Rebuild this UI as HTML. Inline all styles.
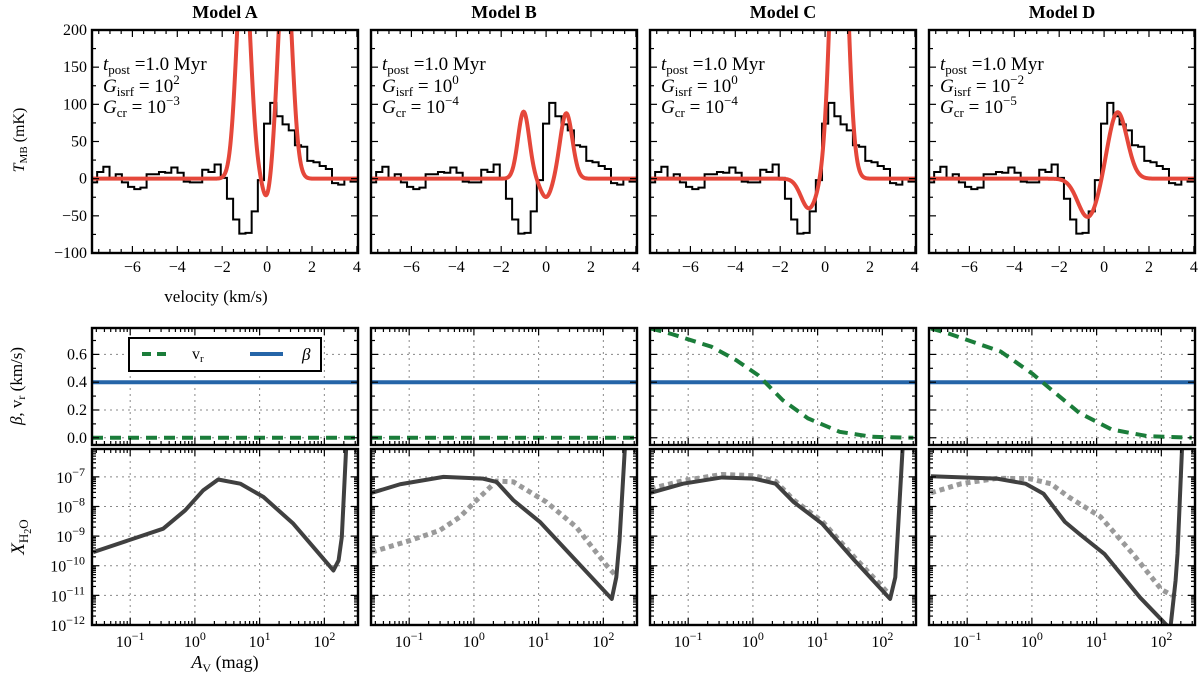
<!DOCTYPE html>
<html><head><meta charset="utf-8"><style>
body{margin:0;background:#fff;}
svg{display:block;font-family:"Liberation Serif",serif;}
</style></head><body>
<svg id="fig" width="1200" height="679" viewBox="0 0 1200 679" xmlns="http://www.w3.org/2000/svg"></svg>
<script>
// ---- data ----
const models = ["Model A","Model B","Model C","Model D"];
const gIsrfExp = ["2","0","0","−2"];
const gCrExp = ["−3","−4","−4","−5"];
// observed spectrum (step histogram)
const histStart = -7.57;
const histWidth = 0.2753;
const histValues = [-5,9,16,1,6,-5,-11,-14,-12,6,6,9,8,15,8,-4,-5,-5,12,9,19,1,-27,-55,-74,-73,-44,-2,74,102,84,73,65,45,43,24,22,17,13,-6,-8,0,-4];
// model spectra: gaussian components [amplitude mK, centre km/s, width km/s]
const modelA = [[310,-1.05,0.3],[310,0.8,0.3],[-30,0,0.2]];
const modelB = [[90,-1.0,0.25],[88,0.9,0.27],[-25,0,0.25]];
const modelC = [[-40,-0.72,0.35],[506,0.62,0.33]];
const modelD = [[-52,-0.72,0.45],[90,0.6,0.42]];
const modelSpectra = [modelA,modelB,modelC,modelD];
// velocity profiles (log10 Av, v_r)
const vrA = [[-1.59,0],[2.52,0]];
const vrB = [[-1.59,0],[2.52,0]];
const vrC = [[-1.58,0.787],[-1.25,0.746],[-0.64,0.655],[-0.26,0.559],[0.08,0.451],[0.46,0.271],[0.85,0.14],[1.34,0.043],[1.84,0.007],[2.48,0]];
const vrD = [[-1.56,0.787],[-1.26,0.746],[-0.48,0.62],[0.01,0.46],[0.29,0.35],[0.73,0.18],[1.23,0.06],[1.78,0.012],[2.47,0]];
const vrAll = [vrA,vrB,vrC,vrD];
const betaValues = [0.4,0.4,0.4,0.4];
// water abundance (log10 Av, log10 X)
const h2oA = [[-1.57,-9.54],[-0.49,-8.75],[-0.15,-8.13],[0.13,-7.45],[0.36,-7.09],[0.70,-7.23],[1.06,-7.68],[1.52,-8.58],[2.14,-10.16],[2.22,-9.82],[2.27,-9.03],[2.36,-5]];
const h2oB = [[-1.58,-7.54],[-1.14,-7.25],[-0.47,-7.0],[0.14,-7.06],[0.35,-7.17],[0.61,-7.79],[1.02,-8.52],[1.43,-9.48],[2.13,-11.12],[2.20,-10.39],[2.25,-9.15],[2.36,-5]];
const h2oC = [[-1.58,-7.54],[-1.08,-7.23],[-0.48,-7.02],[0.02,-7.06],[0.35,-7.23],[0.63,-7.85],[1.07,-8.58],[1.57,-9.82],[2.12,-11.12],[2.20,-10.39],[2.34,-5]];
const h2oD = [[-1.56,-6.98],[-0.54,-7.06],[-0.1,-7.23],[0.18,-7.57],[0.51,-8.52],[0.73,-8.92],[1.12,-9.6],[1.67,-11.07],[2.08,-12.0],[2.14,-12.1],[2.22,-10.5],[2.25,-9.59],[2.34,-5]];
const h2oAll = [h2oA,h2oB,h2oC,h2oD];
const refB = [[-1.58,-9.54],[-0.99,-9.15],[-0.53,-8.81],[-0.22,-8.36],[0.04,-7.79],[0.35,-7.14],[0.61,-7.17],[1.12,-7.85],[1.58,-8.69],[2.05,-9.99],[2.18,-10.3]];
const refC = [[-1.58,-7.4],[-1.08,-7.13],[-0.48,-6.92],[0.02,-6.96],[0.35,-7.15],[0.63,-7.78],[1.07,-8.5],[1.57,-9.72],[2.08,-10.9]];
const refD = [[-1.56,-7.54],[-1.09,-7.23],[-0.54,-7.05],[-0.04,-7.06],[0.29,-7.23],[0.57,-7.68],[1.06,-8.35],[1.56,-9.6],[2.0,-10.8],[2.17,-11.0]];
const refAll = [null,refB,refC,refD];
const tLabels = [200,150,100,50,0,-50,-100];
const vLabels = [-6,-4,-2,0,2,4];
const bLabels = [0.0,0.2,0.4,0.6];
const xLogLabels = [-1,0,1,2];
const yLogLabels = [-7,-8,-9,-10,-11,-12];

// ---- layout ----
const svg = document.getElementById('fig');
const NS = 'http://www.w3.org/2000/svg';
const cols = [92,371,650,929], W = 266;
const R1 = {y:30,h:223}, R2 = {y:328,h:117}, R3 = {y:449,h:176};
const V0=-7.8, V1=4.05, L0=-1.59, L1=2.52, Y0=-12, Y1=-6.06, B0=-0.052, B1=0.79;
function mk(tag, attrs, parent){const e=document.createElementNS(NS,tag);for(const k in attrs)e.setAttribute(k,attrs[k]);(parent||svg).appendChild(e);return e;}
const vx=(x0,v)=>x0+(v-V0)/(V1-V0)*W;
const ty=t=>R1.y+(200-t)/300*R1.h;
const lx=(x0,l)=>x0+(l-L0)/(L1-L0)*W;
const by=b=>R2.y+(B1-b)/(B1-B0)*R2.h;
const xy=l=>R3.y+(Y1-l)/(Y1-Y0)*R3.h;
const BLUE='#2565a8', GREEN='#1b7d3a', RED='#e5473a', DARK='#404040', GREY='#9a9a9a';

function clip(id,x,y,w,h){const c=mk('clipPath',{id:id});mk('rect',{x:x,y:y,width:w,height:h},c);return 'url(#'+id+')';}
function tickH(x,y0,y1,len){
  mk('line',{x1:x,y1:y1,x2:x,y2:y1-len,stroke:'#000','stroke-width':1.2});
  mk('line',{x1:x,y1:y0,x2:x,y2:y0+len,stroke:'#000','stroke-width':1.2});
}
function tickV(y,x0,x1,len){
  mk('line',{x1:x0,y1:y,x2:x0+len,y2:y,stroke:'#000','stroke-width':1.2});
  mk('line',{x1:x1,y1:y,x2:x1-len,y2:y,stroke:'#000','stroke-width':1.2});
}
function frame(x,y,h,name){const r=mk('rect',{x:x,y:y,width:W,height:h,fill:'none',stroke:'#000','stroke-width':2.4});}
function logLabel(x,y,exp,anchor,parent){
  const t=mk('text',{x:x,y:y,'font-size':16,'text-anchor':anchor},parent);
  t.appendChild(document.createTextNode('10'));
  const s=mk('tspan',{'font-size':12,dy:-7},t);s.textContent=exp<0?'−'+(-exp):String(exp);
  return t;
}
function pathFrom(pts){return pts.map((p,i)=>(i?'L':'M')+p[0].toFixed(2)+','+p[1].toFixed(2)).join('');}

cols.forEach((x0,ci)=>{
  const tt=mk('text',{x:x0+W/2,y:18,'font-size':18,'font-weight':'bold','text-anchor':'middle'});
  tt.textContent=models[ci];
  
  

  // ===== row 1 spectra =====
  const c1=clip('c1'+ci,x0,R1.y,W,R1.h);
  let pts=[[vx(x0,V0),ty(histValues[0])]];
  for(let i=1;i<histValues.length;i++){const e=histStart+(i-1)*histWidth;pts.push([vx(x0,e),ty(histValues[i-1])]);pts.push([vx(x0,e),ty(histValues[i])]);}
  pts.push([vx(x0,V1),ty(histValues[histValues.length-1])]);
  const hp=mk('path',{d:pathFrom(pts),fill:'none',stroke:'#000','stroke-width':2,'clip-path':c1});
  
  
  const comps=modelSpectra[ci];const mp=[];
  for(let v=V0;v<=V1+1e-9;v+=0.02){let s=0;comps.forEach(c=>{s+=c[0]*Math.exp(-(v-c[1])*(v-c[1])/(2*c[2]*c[2]));});mp.push([vx(x0,v),ty(Math.max(-150,Math.min(300,s)))]);}
  const rp=mk('path',{d:pathFrom(mp),fill:'none',stroke:RED,'stroke-width':4,'clip-path':c1});
  
  
  for(let v=-7.5;v<=4.01;v+=0.5){const maj=Math.abs(v/2-Math.round(v/2))<1e-6;tickH(vx(x0,v),R1.y,R1.y+R1.h,maj?7:4);}
  for(let t=-100;t<=200;t+=25){tickV(ty(t),x0,x0+W,t%50===0?7:4);}
  vLabels.forEach(v=>{const l=mk('text',{x:vx(x0,v),y:R1.y+R1.h+19,'font-size':16,'text-anchor':'middle'});l.textContent=v<0?'−'+(-v):String(v);});
  if(ci===0){tLabels.forEach(t=>{const l=mk('text',{x:x0-5,y:ty(t)+5,'font-size':16,'text-anchor':'end'});l.textContent=t<0?'−'+(-t):String(t);});}
  const ag=mk('g',{'font-size':19});
  
  
  let a=mk('text',{x:x0+11,y:70},ag);a.innerHTML='<tspan font-style="italic">t</tspan><tspan font-size="13" dy="4">post</tspan><tspan dy="-4"> =1.0 Myr</tspan>';
  a=mk('text',{x:x0+11,y:92},ag);a.innerHTML='<tspan font-style="italic">G</tspan><tspan font-size="13" dy="4">isrf</tspan><tspan dy="-4"> = 10</tspan><tspan font-size="13" dy="-8">'+gIsrfExp[ci]+'</tspan>';
  a=mk('text',{x:x0+11,y:113},ag);a.innerHTML='<tspan font-style="italic">G</tspan><tspan font-size="13" dy="4">cr</tspan><tspan dy="-4"> = 10</tspan><tspan font-size="13" dy="-8">'+gCrExp[ci]+'</tspan>';
  frame(x0,R1.y,R1.h,'spectrum-panel-'+'abcd'[ci]);

  // ===== row 2 velocity =====
  const c2=clip('c2'+ci,x0,R2.y,W,R2.h);
  const grid2=mk('g',{stroke:'#888','stroke-width':1,'stroke-dasharray':'2,4'});
  xLogLabels.forEach(l=>mk('line',{x1:lx(x0,l),y1:R2.y,x2:lx(x0,l),y2:R2.y+R2.h},grid2));
  bLabels.forEach(b=>mk('line',{x1:x0,y1:by(b),x2:x0+W,y2:by(b)},grid2));
  const bl=mk('line',{x1:x0,y1:by(betaValues[ci]),x2:x0+W,y2:by(betaValues[ci]),stroke:BLUE,'stroke-width':4});
  
  
  const vp=mk('path',{d:pathFrom(vrAll[ci].map(p=>[lx(x0,p[0]),by(p[1])])),fill:'none',stroke:GREEN,'stroke-width':4,'stroke-dasharray':'11,7','clip-path':c2});
  
  
  for(let b=0;b<=0.75;b+=0.1){tickV(by(b),x0,x0+W,Math.round(b*10)%2===0?7:4);}
  for(let d=-2;d<=2;d++){for(let m=1;m<10;m++){const l=d+Math.log10(m);if(l<L0||l>L1)continue;tickH(lx(x0,l),R2.y,R2.y+R2.h,m===1?7:4);}}
  if(ci===0){bLabels.forEach(b=>{const l=mk('text',{x:x0-5,y:by(b)+5,'font-size':16,'text-anchor':'end'});l.textContent=b.toFixed(1);});
    const lg=mk('g',{});
    mk('rect',{x:129,y:338,width:192,height:33,fill:'#fff',stroke:'#000','stroke-width':2},lg);
    mk('line',{x1:142,y1:354,x2:170,y2:354,stroke:GREEN,'stroke-width':4,'stroke-dasharray':'9,6'},lg);
    const t1=mk('text',{x:192,y:359,'font-size':16},lg);t1.innerHTML='v<tspan font-size="11" dy="3">r</tspan>';
    mk('line',{x1:250,y1:354,x2:283,y2:354,stroke:BLUE,'stroke-width':4},lg);
    const t2=mk('text',{x:302,y:360,'font-size':17,'font-style':'italic'},lg);t2.textContent='β';
  }
  frame(x0,R2.y,R2.h,'velocity-panel-'+'abcd'[ci]);

  // ===== row 3 abundance =====
  const c3=clip('c3'+ci,x0,R3.y,W,R3.h);
  const grid3=mk('g',{stroke:'#888','stroke-width':1,'stroke-dasharray':'2,4'});
  xLogLabels.forEach(l=>mk('line',{x1:lx(x0,l),y1:R3.y,x2:lx(x0,l),y2:R3.y+R3.h},grid3));
  yLogLabels.forEach(l=>mk('line',{x1:x0,y1:xy(l),x2:x0+W,y2:xy(l)},grid3));
  if(refAll[ci]){const rp2=mk('path',{d:pathFrom(refAll[ci].map(p=>[lx(x0,p[0]),xy(p[1])])),fill:'none',stroke:GREY,'stroke-width':5,'stroke-dasharray':'5,4','clip-path':c3});
    
    }
  const ap=mk('path',{d:pathFrom(h2oAll[ci].map(p=>[lx(x0,p[0]),xy(p[1])])),fill:'none',stroke:DARK,'stroke-width':4,'stroke-linejoin':'round','clip-path':c3});
  
  
  for(let d=-2;d<=2;d++){for(let m=1;m<10;m++){const l=d+Math.log10(m);if(l<L0||l>L1)continue;tickH(lx(x0,l),R3.y,R3.y+R3.h,m===1?7:4);}}
  for(let d=-12;d<=-7;d++){for(let m=1;m<10;m++){const l=d+Math.log10(m);if(l<Y0||l>Y1)continue;tickV(xy(l),x0,x0+W,m===1?7:4);}}
  xLogLabels.forEach(l=>logLabel(lx(x0,l),R3.y+R3.h+22,l,'middle'));
  if(ci===0){yLogLabels.forEach(l=>logLabel(x0-7,xy(l)+6,l,'end'));}
  frame(x0,R3.y,R3.h,'abundance-panel-'+'abcd'[ci]);
});

let t=mk('text',{transform:'translate(24,140) rotate(-90)','font-size':16,'text-anchor':'middle'});
t.innerHTML='<tspan font-style="italic">T</tspan><tspan font-size="11" dy="3">MB</tspan><tspan dy="-3"> (mK)</tspan>';

t=mk('text',{x:216,y:302,'font-size':17,'text-anchor':'middle'});t.textContent='velocity (km/s)';

t=mk('text',{transform:'translate(22,386) rotate(-90)','font-size':17,'text-anchor':'middle'});
t.innerHTML='<tspan font-style="italic">β</tspan>, v<tspan font-size="12" dy="3">r</tspan><tspan dy="-3"> (km/s)</tspan>';

t=mk('text',{transform:'translate(24,537) rotate(-90)','font-size':19,'text-anchor':'middle'});
t.innerHTML='<tspan font-style="italic">X</tspan><tspan font-size="13" dy="4">H</tspan><tspan font-size="10" dy="3">2</tspan><tspan font-size="13" dy="-3">O</tspan>';

t=mk('text',{x:225,y:668,'font-size':18,'text-anchor':'middle'});
t.innerHTML='<tspan font-style="italic">A</tspan><tspan font-size="12" dy="4">V</tspan><tspan dy="-4"> (mag)</tspan>';

</script>
</body></html>
